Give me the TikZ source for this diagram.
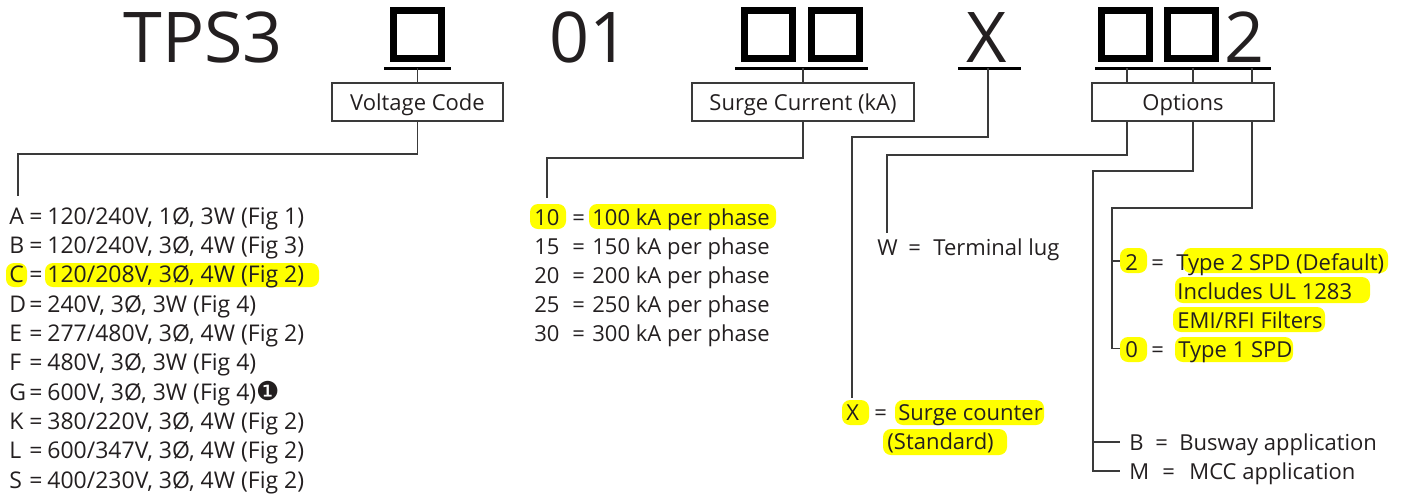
\documentclass[tikz,border=0pt]{standalone}
\usepackage{fontspec}
\setmainfont{Open Sans}
\newfontfamily\djv{DejaVu Sans}
\definecolor{ink}{HTML}{231F20}
\definecolor{wirec}{HTML}{3A3A3A}
\definecolor{hly}{HTML}{FFFF00}
\begin{document}
\begin{tikzpicture}[x=0.5pt,y=-0.5pt,
  txt/.style={anchor=base west, inner sep=0pt, text=ink, font=\fontsize{11}{13}\selectfont},
  ltxt/.style={txt, font=\fontsize{11.5}{13}\selectfont},
  big/.style={anchor=base west, inner sep=0pt, text=ink, font=\fontsize{35}{40}\selectfont},
  sq/.style={draw=black, line width=3.5pt, minimum width=24pt, minimum height=24pt, inner sep=0pt},
  uline/.style={draw=black, line width=1.5pt},
  wire/.style={draw=wirec, line width=0.75pt},
  lbox/.style={draw=wirec, line width=0.75pt, minimum height=19pt, inner sep=0pt, text height=8pt, text depth=0pt, text=ink, font=\fontsize{11}{13}\selectfont},
  hl/.style={fill=hly, rounded corners=4pt}]
\useasboundingbox (0,0) rectangle (1402,495);

% ---------- highlights ----------
\fill[hl] (6,263) rectangle (27,287);
\fill[hl] (45,263) rectangle (319,287);
\fill[hl] (530,204) rectangle (566,229);
\fill[hl] (589,204) rectangle (776,229);
\fill[hl] (1120,248) rectangle (1147,273);
\fill[hl] (1183,248) rectangle (1388,273);
\fill[hl] (1175,277) rectangle (1370,303);
\fill[hl] (1173,307) rectangle (1325,332);
\fill[hl] (1120,337) rectangle (1147,362);
\fill[hl] (1175,337) rectangle (1293,362);
\fill[hl] (842,400) rectangle (869,425);
\fill[hl] (895,400) rectangle (1044,425);
\fill[hl] (883,429) rectangle (1007,455);

% ---------- title row ----------
\node[big] (tps) at (123,62) {TPS3};
\node[sq] (s1) at (417,34.5) {};
\node[big] (n01) at (549,62) {01};
\node[sq] (s2) at (768,34.5) {};
\node[sq] (s3) at (835,34.5) {};
\node[big] (nx) at (966,62) {X};
\node[sq] (s4) at (1125,34.5) {};
\node[sq] (s5) at (1191,34.5) {};
\node[big] (n2) at (1224,62) {2};

\coordinate (u1l) at (384,68);  \coordinate (u1r) at (451,68);
\coordinate (u2l) at (735,68);  \coordinate (u2r) at (868,68);
\coordinate (u3l) at (958,68);  \coordinate (u3r) at (1021,68);
\coordinate (u4l) at (1095,68); \coordinate (u4r) at (1271,68);
\draw[uline] (u1l) -- (u1r);
\draw[uline] (u2l) -- (u2r);
\draw[uline] (u3l) -- (u3r);
\draw[uline] (u4l) -- (u4r);

% ---------- label boxes ----------
\node[lbox, minimum width=85.5pt] (vbox) at (417.5,102) {Voltage Code};
\node[lbox, minimum width=111pt] (sbox) at (803,102) {Surge Current (kA)};
\node[lbox, minimum width=91pt] (obox) at (1183,102) {Options};

% ---------- connectors ----------
\coordinate (t1) at (417.5,68);
\coordinate (vb) at (18,154); \coordinate (ve) at (18,196);
\draw[wire] (t1) -- (vbox.north);
\draw[wire] (vbox.south) |- (vb) -- (ve);

\coordinate (t2) at (803,68);
\coordinate (sb) at (547,158); \coordinate (se) at (547,198);
\draw[wire] (t2) -- (sbox.north);
\draw[wire] (sbox.south) |- (sb) -- (se);

\coordinate (t3) at (988,68);
\coordinate (xb) at (852,137); \coordinate (xe) at (852,398);
\draw[wire] (t3) |- (xb) -- (xe);

\coordinate (o1) at (1127,68);
\coordinate (o2) at (1193,68);
\coordinate (o3) at (1252,68);
\draw[wire] (o1) -- (o1 |- obox.north);
\draw[wire] (o2) -- (o2 |- obox.north);
\draw[wire] (o3) -- (o3 |- obox.north);

\coordinate (wb) at (887,155); \coordinate (we) at (887,233);
\draw[wire] (o1 |- obox.south) |- (wb) -- (we);

\coordinate (bb) at (1093,171); \coordinate (me) at (1093,471);
\coordinate (mt) at (1120,471); \coordinate (bj) at (1093,442); \coordinate (bt) at (1120,442);
\draw[wire] (o2 |- obox.south) |- (bb) -- (me) -- (mt);
\draw[wire] (bj) -- (bt);

\coordinate (pb) at (1112,208); \coordinate (pe) at (1112,348.5);
\coordinate (pt0) at (1120,348.5); \coordinate (pj) at (1112,261); \coordinate (pt2) at (1120,261);
\draw[wire] (o3 |- obox.south) |- (pb) -- (pe) -- (pt0);
\draw[wire] (pj) -- (pt2);

% ---------- voltage list ----------
\node[ltxt] (ka) at (9,224)   {A}; \node[ltxt] (ea) at (29,224)   {=}; \node[ltxt] (va) at (47,224)   {120/240V, 1Ø, 3W (Fig 1)};
\node[ltxt] (kb) at (9,253.3) {B}; \node[ltxt] (eb) at (29,253.3) {=}; \node[ltxt] (vb2) at (47,253.3) {120/240V, 3Ø, 4W (Fig 3)};
\node[ltxt] (kc) at (9,282.7) {C}; \node[ltxt] (ec) at (29,282.7) {=}; \node[ltxt] (vc) at (47,282.7) {120/208V, 3Ø, 4W (Fig 2)};
\node[ltxt] (kd) at (9,312)   {D}; \node[ltxt] (ed) at (29,312)   {=}; \node[ltxt] (vd) at (47,312)   {240V, 3Ø, 3W (Fig 4)};
\node[ltxt] (ke) at (9,341.3) {E}; \node[ltxt] (ee) at (29,341.3) {=}; \node[ltxt] (vee) at (47,341.3) {277/480V, 3Ø, 4W (Fig 2)};
\node[ltxt] (kf) at (9,370.7) {F}; \node[ltxt] (ef) at (29,370.7) {=}; \node[ltxt] (vf) at (47,370.7) {480V, 3Ø, 3W (Fig 4)};
\node[ltxt] (kg) at (9,400)   {G}; \node[ltxt] (eg) at (29,400)   {=}; \node[ltxt] (vg) at (47,400)   {600V, 3Ø, 3W (Fig 4){\djv\fontsize{13}{14}\selectfont ❶}};
\node[ltxt] (kk) at (9,429.3) {K}; \node[ltxt] (ek) at (29,429.3) {=}; \node[ltxt] (vk) at (47,429.3) {380/220V, 3Ø, 4W (Fig 2)};
\node[ltxt] (kl) at (9,458.7) {L}; \node[ltxt] (el) at (29,458.7) {=}; \node[ltxt] (vl) at (47,458.7) {600/347V, 3Ø, 4W (Fig 2)};
\node[ltxt] (ks) at (9,488)   {S}; \node[ltxt] (es) at (29,488)   {=}; \node[ltxt] (vs) at (47,488)   {400/230V, 3Ø, 4W (Fig 2)};

% ---------- surge list ----------
\node[txt] (k10) at (534,225) {10}; \node[txt] (e10) at (572,225) {=}; \node[txt] (v10) at (592,225) {100 kA per phase};
\node[txt] (k15) at (534,254) {15}; \node[txt] (e15) at (572,254) {=}; \node[txt] (v15) at (592,254) {150 kA per phase};
\node[txt] (k20) at (534,283) {20}; \node[txt] (e20) at (572,283) {=}; \node[txt] (v20) at (592,283) {200 kA per phase};
\node[txt] (k25) at (534,312) {25}; \node[txt] (e25) at (572,312) {=}; \node[txt] (v25) at (592,312) {250 kA per phase};
\node[txt] (k30) at (534,341) {30}; \node[txt] (e30) at (572,341) {=}; \node[txt] (v30) at (592,341) {300 kA per phase};

% ---------- X / W ----------
\node[txt] (kw) at (877,255) {W}; \node[txt] (ew) at (908,255) {=}; \node[txt] (vw) at (933,255) {Terminal lug};
\node[txt] (kx) at (846,420) {X}; \node[txt] (ex) at (874,420) {=}; \node[txt] (vx) at (898,420) {Surge counter};
\node[txt] (vx2) at (887,449) {(Standard)};

% ---------- options ----------
\node[txt] (k2) at (1125,270) {2}; \node[txt] (e2) at (1151,270) {=}; \node[txt] (v2) at (1176,270) {Type 2 SPD (Default)};
\node[txt] (v2b) at (1177,299) {Includes UL 1283};
\node[txt] (v2c) at (1177,328) {EMI/RFI Filters};
\node[txt] (k0) at (1125,357) {0}; \node[txt] (e0) at (1151,357) {=}; \node[txt] (v0) at (1178,357) {Type 1 SPD};
\node[txt] (kbb) at (1129,450) {B}; \node[txt] (ebb) at (1155,450) {=}; \node[txt] (vbb) at (1179,450) {Busway application};
\node[txt] (km) at (1129,479) {M}; \node[txt] (em) at (1162,479) {=}; \node[txt] (vm) at (1189,479) {MCC application};
\end{tikzpicture}
\end{document}
